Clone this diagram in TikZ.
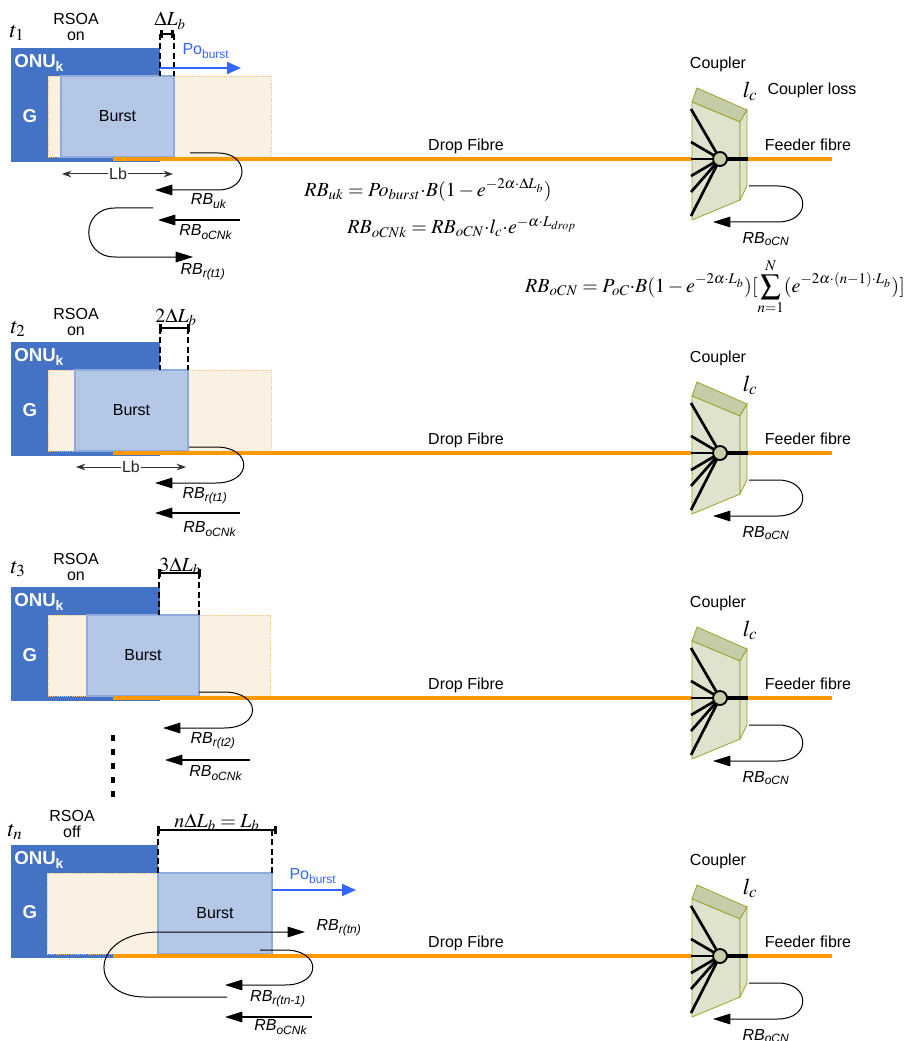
\documentclass[tikz,border=0pt]{standalone}
\usepackage{mathptmx}
\usepackage[no-math]{fontspec}
\setmainfont{Liberation Sans}
\usetikzlibrary{arrows.meta}

\definecolor{onublue}{RGB}{68,114,196}
\definecolor{burstfill}{RGB}{180,199,231}
\definecolor{burstedge}{RGB}{143,170,220}
\definecolor{guardfill}{RGB}{251,241,227}
\definecolor{guardedge}{RGB}{250,192,120}
\definecolor{fibrecol}{RGB}{255,153,0}
\definecolor{poblue}{RGB}{51,102,255}
\definecolor{cplfront}{RGB}{221,227,204}
\definecolor{cpltop}{RGB}{197,205,168}
\definecolor{cpledge}{RGB}{160,160,40}
\definecolor{cplhub}{RGB}{200,207,168}

\newcommand{\rb}[1]{\textit{RB}\textsubscript{\textit{#1}}}
\newcommand{\pob}{Po\textsubscript{burst}}

\tikzset{
  onubox/.style={fill=onublue},
  guardbox/.style={fill=guardfill, draw=guardedge, densely dotted, line width=0.6pt},
  burstbox/.style={fill=burstfill, draw=burstedge, line width=0.8pt},
  fibreline/.style={draw=fibrecol, line width=3pt},
  reflect/.style={line width=0.9pt, -{Triangle[length=13pt,width=8pt]}},
  powerarrow/.style={draw=poblue, line width=1.5pt, -{Triangle[length=10.5pt,width=9pt]}},
  dimbar/.style={line width=2pt, {Bar[width=6pt]}-{Bar[width=6pt]}},
  dimline/.style={line width=0.8pt, dash pattern=on 4.5pt off 2.5pt},
  lbarrow/.style={draw=black!80, line width=0.75pt, {Stealth[length=7pt,width=5pt]}-{Stealth[length=7pt,width=5pt]}},
  lbl/.style={font=\fontsize{12}{12.5}\selectfont, inner sep=1pt},
  onutext/.style={text=white, font=\fontsize{14}{14}\selectfont\bfseries, inner sep=0pt},
  eqn/.style={font=\fontsize{15}{17}\selectfont, inner sep=0pt},
  tlabel/.style={font=\fontsize{17}{17}\selectfont, inner sep=0pt},
}

\begin{document}
\begin{tikzpicture}[x=0.75pt, y=-0.75pt]
  \useasboundingbox (0,0) rectangle (904,1041);

  % ---------- ONU blocks ----------
  % t1
  \node[tlabel] (t1) at (17,33) {$t_1$};
  \node[lbl, align=center] (rsoa1) at (76,27) {RSOA\\on};
  \fill[onubox] (11,48) rectangle (160,162);
  \node[onutext, anchor=west] (onu1) at (14,63) {ONU\textsubscript{k}};
  \node[onutext] (g1) at (30,116) {G};
  \draw[guardbox] (48,76) rectangle (271,157);
  \draw[burstbox] (61,76) rectangle (174,157) node[pos=.5, lbl] (burst1) {Burst};
  \coordinate (dl1) at (160,34); \coordinate (dr1) at (174,34);
  \draw[dimline] (dl1) -- (160,76);
  \draw[dimline] (dr1) -- (174,76);
  \draw[dimbar] (dl1) -- (dr1);
  \node[eqn, anchor=base] (dlb1) at (170,26) {$\Delta L_b$};
  \coordinate (po1a) at (160,68); \coordinate (po1b) at (241,68);
  \draw[powerarrow] (po1a) -- (po1b);
  \node[lbl, text=poblue] (po1) at (206,51) {\pob};
  \coordinate (lb1a) at (62,174); \coordinate (lb1b) at (173,174);
  \draw[lbarrow] (lb1a) -- (lb1b);
  \node[lbl, fill=white, text=black!85] (lb1) at (118,174) {Lb};

  % t2
  \node[tlabel] (t2) at (18,329) {$t_2$};
  \node[lbl, align=center] (rsoa2) at (76,322) {RSOA\\on};
  \fill[onubox] (11,342) rectangle (160,456);
  \node[onutext, anchor=west] (onu2) at (14,357) {ONU\textsubscript{k}};
  \node[onutext] (g2) at (30,410) {G};
  \draw[guardbox] (48,370) rectangle (271,451);
  \draw[burstbox] (75,370) rectangle (188,451) node[pos=.5, lbl] (burst2) {Burst};
  \coordinate (dl2) at (159,328); \coordinate (dr2) at (190,328);
  \draw[dimline] (160,328) -- (160,370);
  \draw[dimline] (188,328) -- (188,370);
  \draw[dimbar] (dl2) -- (dr2);
  \node[eqn, anchor=base] (dlb2) at (176,322) {$2\Delta L_b$};
  \coordinate (lb2a) at (76,467); \coordinate (lb2b) at (186,467);
  \draw[lbarrow] (lb2a) -- (lb2b);
  \node[lbl, fill=white, text=black!85] (lb2) at (131,467) {Lb};

  % t3
  \node[tlabel] (t3) at (18,569) {$t_3$};
  \node[lbl, align=center] (rsoa3) at (76,567) {RSOA\\on};
  \fill[onubox] (11,587) rectangle (160,701);
  \node[onutext, anchor=west] (onu3) at (14,602) {ONU\textsubscript{k}};
  \node[onutext] (g3) at (30,655) {G};
  \draw[guardbox] (48,615) rectangle (270,696);
  \draw[burstbox] (87,615) rectangle (199,696) node[pos=.5, lbl] (burst3) {Burst};
  \coordinate (dl3) at (158,573); \coordinate (dr3) at (201,573);
  \draw[dimline] (159,573) -- (159,615);
  \draw[dimline] (199,573) -- (199,615);
  \draw[dimbar] (dl3) -- (dr3);
  \node[eqn, anchor=base] (dlb3) at (180,571) {$3\Delta L_b$};
  % more time slots
  \coordinate (dots-a) at (113,735); \coordinate (dots-b) at (113,798);
  \draw[line width=2.3pt, dash pattern=on 4.5pt off 6pt] (dots-a) -- (dots-b);

  % tn
  \node[tlabel] (tn) at (15,832) {$t_n$};
  \node[lbl, align=center] (rsoa4) at (72,824) {RSOA\\off};
  \fill[onubox] (11,845) rectangle (158,958);
  \node[onutext, anchor=west] (onu4) at (14,860) {ONU\textsubscript{k}};
  \node[onutext] (g4) at (30,912) {G};
  \draw[guardbox] (47,873) rectangle (158,954);
  \draw[burstbox] (158,873) rectangle (272,954) node[pos=.5, lbl] (burst4) {Burst};
  \coordinate (dl4) at (157,830); \coordinate (dr4) at (277,830);
  \draw[dimline] (158,830) -- (158,873);
  \draw[dimline] (272,830) -- (272,873);
  \draw[dimbar] (dl4) -- (dr4);
  \node[eqn, anchor=base] (dlb4) at (217,827) {$n\Delta L_b = L_b$};
  \coordinate (po4a) at (272,890); \coordinate (po4b) at (356,890);
  \draw[powerarrow] (po4a) -- (po4b);
  \node[lbl, text=poblue] (po4) at (313,876) {\pob};

  % ---------- fibres and couplers ----------
  \foreach \fy/\i in {159/1,453/2,698/3,956/4}{
    \begin{scope}[shift={(0,\fy)}]
      \draw[fibreline] (113,0) -- (832,0);
      \node[lbl] (drop\i) at (466,-13) {Drop Fibre};
      \node[lbl] (feed\i) at (808,-14) {Feeder fibre};
      \node[lbl] (cpl\i) at (718,-95) {Coupler};
      \node[tlabel] (lc\i) at (750,-68) {$l_c$};
      % coupler slab
      \filldraw[fill=cpltop, draw=cpledge, line width=0.6pt]
        (692,-57) -- (697,-71) -- (747,-49) -- (740,-37) -- cycle;
      \filldraw[fill=cplfront, draw=cpledge, line width=0.6pt]
        (692,-57) -- (740,-37) -- (740,41) -- (692,61) -- cycle;
      \filldraw[fill=cplfront, draw=cpledge, line width=0.6pt]
        (740,-37) -- (747,-49) -- (747,27) -- (740,41) -- cycle;
      \coordinate (hubc\i) at (720,0);
      \foreach \dy in {-50,-17,0,17,33,57}
        \draw[line width=2pt] (hubc\i) -- (691,\dy);
      \draw[line width=2.5pt] (hubc\i) -- (748,0);
      \node[circle, draw, line width=1.4pt, fill=cplhub, minimum size=10.5pt, inner sep=0pt] (hub\i) at (hubc\i) {};
      % reflection at the coupler
      \coordinate (ocn-s\i) at (749,27); \coordinate (ocn-e\i) at (713,63);
      \draw[reflect, line width=0.75pt] (ocn-s\i) -- (778,27) .. controls (811,27) and (811,63) .. (778,63) -- (ocn-e\i);
      \node[lbl] (rbocn\i) at (766,80) {\rb{oCN}};
    \end{scope}
  }
  \node[lbl] (cplloss) at (812,90) {Coupler loss};

  % ---------- back reflections ----------
  % t1
  \coordinate (uk-s) at (190,153); \coordinate (uk-e) at (155,190);
  \draw[reflect, line width=0.75pt] (uk-s) -- (218,153) .. controls (250,153) and (250,190) .. (218,190) -- (uk-e);
  \node[lbl] (rbuk) at (209,201) {\rb{uk}};
  \coordinate (ock1-s) at (240,220); \coordinate (ock1-e) at (158,220);
  \draw[reflect] (ock1-s) -- (ock1-e);
  \node[lbl] (rbock1) at (206,232) {\rb{oCNk}};
  \coordinate (rt1-s) at (153,208); \coordinate (rt1-e) at (193,257);
  \draw[reflect, line width=0.75pt] (rt1-s) -- (115,208) .. controls (80,208) and (80,257) .. (115,257) -- (rt1-e);
  \node[lbl] (rbrt1) at (203,272) {\rb{r(t1)}};

  % t2
  \coordinate (rt1b-s) at (189,447); \coordinate (rt1b-e) at (155,483);
  \draw[reflect, line width=0.75pt] (rt1b-s) -- (216,447) .. controls (253,447) and (253,483) .. (216,483) -- (rt1b-e);
  \node[lbl] (rbrt1b) at (205,496) {\rb{r(t1)}};
  \coordinate (ock2-s) at (240,513); \coordinate (ock2-e) at (155,513);
  \draw[reflect] (ock2-s) -- (ock2-e);
  \node[lbl] (rbock2) at (210,529) {\rb{oCNk}};

  % t3
  \coordinate (rt2-s) at (199,692); \coordinate (rt2-e) at (163,728);
  \draw[reflect, line width=0.75pt] (rt2-s) -- (224,692) .. controls (262,692) and (262,728) .. (224,728) -- (rt2-e);
  \node[lbl] (rbrt2) at (213,741) {\rb{r(t2)}};
  \coordinate (ock3-s) at (250,760); \coordinate (ock3-e) at (165,760);
  \draw[reflect] (ock3-s) -- (ock3-e);
  \node[lbl] (rbock3) at (216,773) {\rb{oCNk}};

  % tn
  \coordinate (rtn-s) at (227,997); \coordinate (rtn-e) at (305,932);
  \draw[reflect, line width=0.75pt] (rtn-s) -- (145,997) .. controls (88,997) and (88,932) .. (160,932) -- (rtn-e);
  \node[lbl] (rbrtn) at (339,928) {\rb{r(tn)}};
  \coordinate (rtm-s) at (260,950); \coordinate (rtm-e) at (225,985);
  \draw[reflect, line width=0.75pt] (rtm-s) -- (285,950) .. controls (322,950) and (322,985) .. (285,985) -- (rtm-e);
  \node[lbl] (rbrtm) at (278,999) {\rb{r(tn-1)}};
  \coordinate (ock4-s) at (312,1017); \coordinate (ock4-e) at (225,1017);
  \draw[reflect] (ock4-s) -- (ock4-e);
  \node[lbl] (rbock4) at (281,1027) {\rb{oCNk}};

  % ---------- power budget ----------
  \node[eqn] (equk) at (428,190)
    {$RB_{uk} = Po_{burst}{\cdot}B(1-e^{-2\alpha\cdot\Delta L_b})$};
  \node[eqn] (eqock) at (462,227)
    {$RB_{oCNk} = RB_{oCN}{\cdot}l_c{\cdot}e^{-\alpha\cdot L_{drop}}$};
  \node[eqn] (eqocn) at (715,287)
    {$\displaystyle RB_{oCN} = P_{oC}{\cdot}B(1-e^{-2\alpha\cdot L_b})[\sum_{n=1}^{N}(e^{-2\alpha\cdot(n-1)\cdot L_b})]$};
\end{tikzpicture}
\end{document}
